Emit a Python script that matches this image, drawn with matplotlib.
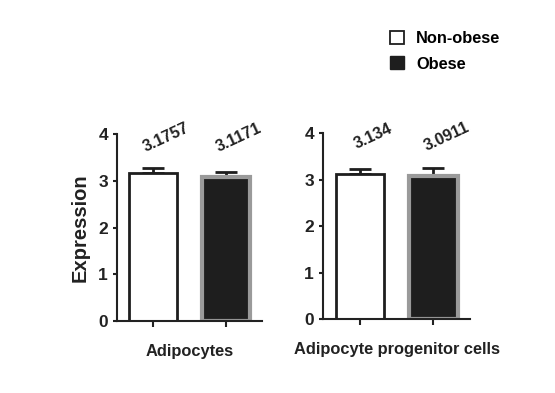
import matplotlib.pyplot as plt
import numpy as np
from matplotlib.patches import Patch

groups = ['Non-obese', 'Obese']
cell_types = ['Adipocytes', 'Adipocyte progenitor cells']
means = {'Adipocytes': [3.16, 3.08], 'Adipocyte progenitor cells': [3.13, 3.07]}
errs = {'Adipocytes': [0.12, 0.10], 'Adipocyte progenitor cells': [0.11, 0.19]}
value_labels = {'Adipocytes': ['3.1757', '3.1171'], 'Adipocyte progenitor cells': ['3.134', '3.0911']}
yticks = [0, 1, 2, 3, 4]

plt.rcParams['font.family'] = ['Liberation Sans', 'DejaVu Sans']
plt.rcParams['font.weight'] = 'bold'

fig = plt.figure(figsize=(5.55, 3.93), dpi=100)
axes = [fig.add_axes([0.211, 0.183, 0.261, 0.476]),
        fig.add_axes([0.582, 0.188, 0.265, 0.473])]

dark = '#1e1e1e'
txt = '#222222'
for ax, ct in zip(axes, cell_types):
    x = np.arange(len(groups))
    m = means[ct]
    e = errs[ct]
    # only the upper half of the error bar is drawn
    ax.errorbar(x, m, yerr=[[0, 0], e], fmt='none', ecolor=dark, elinewidth=2,
                capsize=8, capthick=2, zorder=1)
    ax.bar(x[0], m[0], width=0.66, color='white', edgecolor=dark, linewidth=2, zorder=2)
    ax.bar(x[1], m[1], width=0.66, color=dark, edgecolor='#9a9a9a', linewidth=3, zorder=2)
    for xi, lab in zip(x, value_labels[ct]):
        ax.text(xi + 0.18, 3.93, lab, rotation=25, ha='center', va='center',
                fontsize=11.5, fontweight='bold', color=txt, clip_on=False)
    ax.set_xlim(-0.5, 1.5)
    ax.set_ylim(0, 4)
    ax.set_yticks(yticks)
    ax.set_xticks(x)
    ax.set_xticklabels([])
    ax.spines['top'].set_visible(False)
    ax.spines['right'].set_visible(False)
    for s in ['left', 'bottom']:
        ax.spines[s].set_linewidth(1.5)
        ax.spines[s].set_color(txt)
    ax.tick_params(axis='y', labelsize=12.5, width=1.5, length=3, colors=txt)
    ax.tick_params(axis='x', width=1.5, length=4, colors=txt)
    ax.set_xlabel(ct, fontsize=11.8, fontweight='bold', color=txt, labelpad=9)

axes[0].set_ylabel('Expression', fontsize=14.5, fontweight='bold', color=txt, labelpad=6)

handles = [Patch(facecolor='white', edgecolor=dark, linewidth=1.3),
           Patch(facecolor=dark, edgecolor=dark)]
fig.legend(handles, groups, loc='upper left', bbox_to_anchor=(0.677, 0.958),
           frameon=False, handlelength=0.85, handleheight=0.85,
           handletextpad=0.7, labelspacing=0.6, prop={'weight': 'bold', 'size': 11.8})

fig.savefig('out.png', dpi=100, facecolor='white')
